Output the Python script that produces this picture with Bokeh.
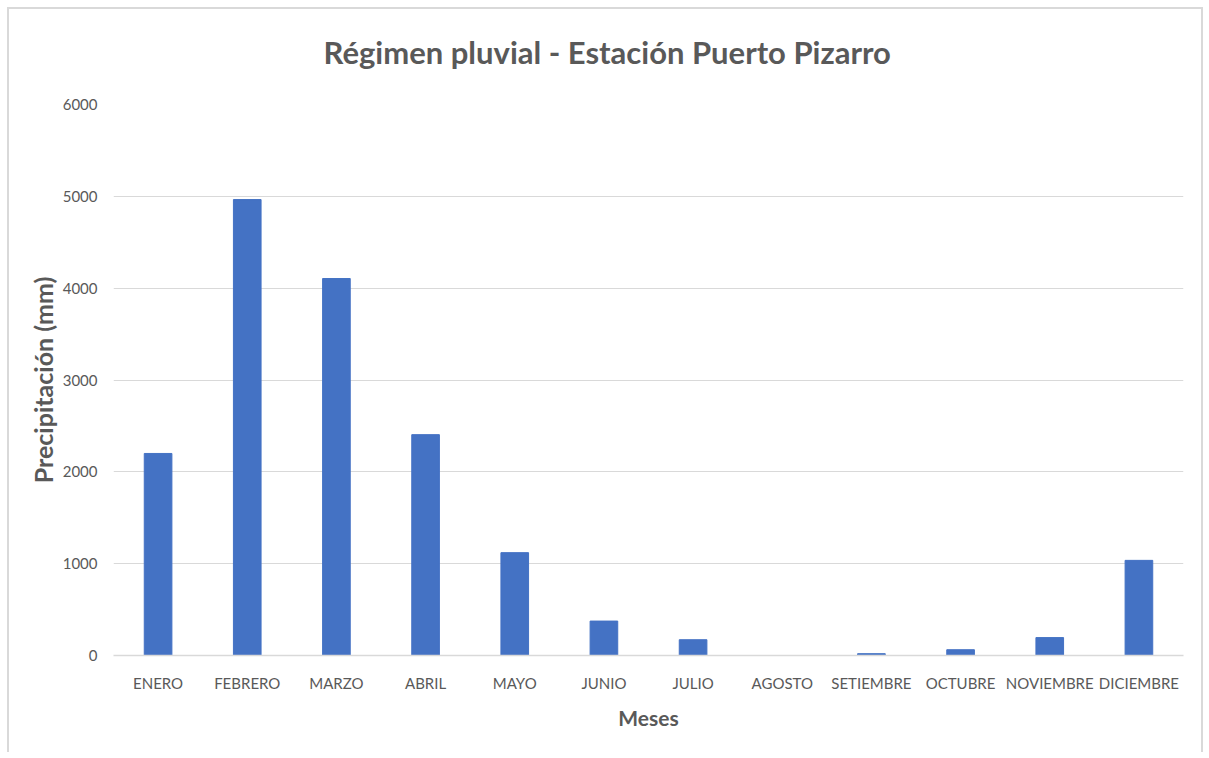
from bokeh.plotting import figure
from bokeh.models import FixedTicker, Title
from bokeh.embed import file_html
from bokeh.resources import INLINE

months = ["ENERO", "FEBRERO", "MARZO", "ABRIL", "MAYO", "JUNIO", "JULIO",
          "AGOSTO", "SETIEMBRE", "OCTUBRE", "NOVIEMBRE", "DICIEMBRE"]
precip = [2200, 4965, 4105, 2405, 1120, 375, 172, 0, 20, 63, 195, 1036]
y_ticks = [0, 1000, 2000, 3000, 4000, 5000, 6000]

TXT = "#595959"
GRID = "#d9d9d9"
FONT = "Lato"

p = figure(x_range=months, y_range=(0, 6000), width=1196, height=745,
           output_backend="svg", toolbar_location=None,
           min_border_left=104, min_border_right=22, min_border_top=95,
           min_border_bottom=99)
p.styles = {"margin-left": "7px", "margin-top": "7px",
            "border-left": "2px solid #d9d9d9", "border-top": "2px solid #d9d9d9",
            "border-right": "2px solid #d9d9d9"}

p.vbar(x=months, top=precip, width=0.31, color="#4472C4")

p.outline_line_color = None
p.background_fill_color = "white"
p.border_fill_color = "white"

p.xgrid.grid_line_color = None
p.ygrid.grid_line_color = GRID
p.ygrid.grid_line_width = 1

p.yaxis.ticker = FixedTicker(ticks=y_ticks)
p.yaxis.axis_line_color = None
p.yaxis.major_tick_line_color = None
p.yaxis.minor_tick_line_color = None
p.yaxis.major_label_text_font = FONT
p.yaxis.major_label_text_font_size = "15px"
p.yaxis.major_label_text_color = TXT
p.yaxis.major_label_standoff = 10
p.yaxis.axis_label = "Precipitación (mm)"
p.yaxis.axis_label_text_font = FONT
p.yaxis.axis_label_text_font_style = "bold"
p.yaxis.axis_label_text_font_size = "25px"
p.yaxis.axis_label_text_color = TXT
p.yaxis.axis_label_standoff = 2

p.xaxis.axis_line_color = GRID
p.xaxis.axis_line_width = 1.5
p.xaxis.major_tick_line_color = None
p.xaxis.minor_tick_line_color = None
p.xaxis.major_label_text_font = FONT
p.xaxis.major_label_text_font_size = "15px"
p.xaxis.major_label_text_color = TXT
p.xaxis.major_label_standoff = 12
p.xaxis.axis_label = "Meses"
p.xaxis.axis_label_text_font = FONT
p.xaxis.axis_label_text_font_style = "bold"
p.xaxis.axis_label_text_font_size = "21px"
p.xaxis.axis_label_text_color = TXT
p.xaxis.axis_label_standoff = 10

# spacer between frame and title (closest to the frame)
spacer = Title(text=" ", text_font=FONT, text_font_size="10px", standoff=20)
p.add_layout(spacer, "above")

title = Title(text="Régimen pluvial - Estación Puerto Pizarro", align="left",
              offset=210, text_font=FONT, text_font_style="bold",
              text_font_size="31px", text_color=TXT, standoff=0)
p.add_layout(title, "above")

open("out.html", "w").write(file_html(p, INLINE))
